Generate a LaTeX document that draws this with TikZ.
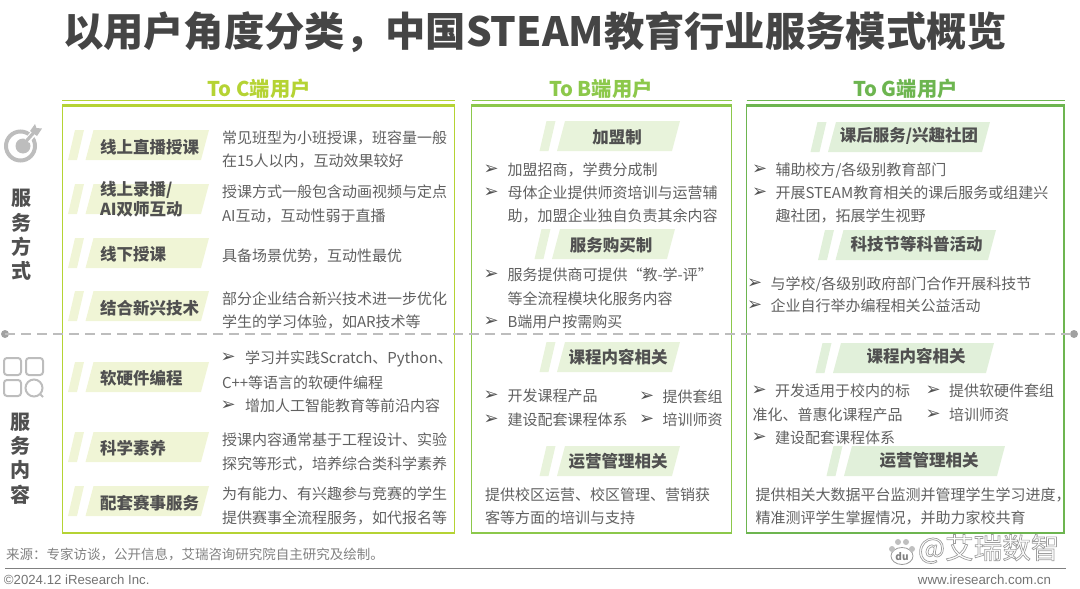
\documentclass[tikz,border=0pt]{standalone}
\usepackage{fontspec}
\setmainfont{Noto Sans CJK SC}
\newfontfamily\latinf{Liberation Sans}
\newfontfamily\symf{DejaVu Sans}
\usetikzlibrary{calc}
\definecolor{cgreen}{HTML}{B5D334}
\definecolor{bgreen}{HTML}{8CC84B}
\definecolor{ggreen}{HTML}{6DB550}
\definecolor{ctag}{HTML}{F0F5D6}
\definecolor{btag}{HTML}{E8F3DB}
\definecolor{gtag}{HTML}{E1F0DA}
\definecolor{tagtext}{HTML}{505050}
\definecolor{titlec}{HTML}{454545}
\definecolor{bodytext}{HTML}{606060}
\definecolor{iconc}{HTML}{BDBDBD}
\tikzset{
  x=1pt,y=-1pt,
  every node/.style={inner sep=0pt,outer sep=0pt},
  titletext/.style={font=\fontsize{40.3}{40}\selectfont\bfseries,text=titlec},
  head/.style={font=\fontsize{20.3}{21}\selectfont\bfseries},
  taglabel/.style={font=\fontsize{16.5}{17}\selectfont\bfseries,text=tagtext},
  bodyline/.style={font=\fontsize{15}{15}\selectfont,text=bodytext,anchor=west,text height=13pt,text depth=1.6pt},
  bulletmark/.style={font=\fontsize{18}{18}\selectfont\symf,text=bodytext!85!black,anchor=west,xshift=-1.5pt},
  side/.style={font=\fontsize{20}{20}\selectfont\bfseries,text=tagtext},
}
% tag band: #1 colour, #2 x of the bottom-left of main band, #3 top y, #4 bottom-right x
\newcommand{\band}[4]{%
  \fill[#1] (#2+8,#3) -- (#4+8,#3) -- (#4,#3+30) -- (#2,#3+30) -- cycle;
  \fill[#1] (#2-17.5,#3+30) -- (#2-8.5,#3+30) -- (#2-1.5,#3) -- (#2-10.5,#3) -- cycle;
}
\newcommand{\bl}[4]{\node[bodyline] (#1) at (#2,#3) {#4};}
\newcommand{\bm}[3]{\node[bulletmark] (#1) at (#2,#3) {➢};}
\begin{document}
\begin{tikzpicture}
\useasboundingbox (0,0) rectangle (1080,589);
\node[titletext] (title) at (535,32) {以用户角度分类，中国STEAM教育行业服务模式概览};

% column heads
\node[head,text=cgreen] (hc) at (259,89) {To C端用户};
\node[head,text=bgreen] (hb) at (601,89) {To B端用户};
\node[head,text=ggreen] (hg) at (905.5,89) {To G端用户};

% frames
\draw[cgreen,line width=1pt] (62,100.5) -- (454.5,100.5);
\fill[cgreen] (62,103.5) rectangle (454.5,107);
\draw[cgreen,line width=1.3pt] (62.5,105) rectangle (454.5,533);
\draw[bgreen,line width=1pt] (471.5,100.5) -- (731.5,100.5);
\fill[bgreen] (471.5,103.5) rectangle (731.5,107);
\draw[bgreen,line width=1.3pt] (471.5,105) rectangle (731.5,533);
\draw[ggreen,line width=1pt] (746.5,100.5) -- (1065,100.5);
\fill[ggreen] (746.5,103.5) rectangle (1065,107);
\draw[ggreen,line width=1.3pt] (746.5,105) rectangle (1064,533);

% dashed separator
\fill[iconc!85!black] (5,334) circle (4) coordinate (dl);
\fill[iconc!85!black] (1074,334) circle (4) coordinate (dr);
\draw[iconc,line width=1.4pt,dash pattern=on 10pt off 6pt] (dl) -- (dr);

% bands
\band{ctag}{85.5}{130}{201}
\band{ctag}{85.5}{184}{201}
\band{ctag}{85.5}{238}{201}
\band{ctag}{85.5}{291}{201}
\band{ctag}{85.5}{362}{201}
\band{ctag}{85.5}{432}{201}
\band{ctag}{85.5}{486}{201}
\band{btag}{557}{121}{672}
\band{btag}{552}{229}{667}
\band{btag}{557}{342}{672}
\band{btag}{557}{446}{672}
\band{gtag}{828}{122}{982}
\band{gtag}{835.5}{230}{988}
\band{gtag}{833}{343}{986}
\band{gtag}{844}{446}{997}

% To C tags
\node[taglabel,anchor=west] (c1) at (100,147) {线上直播授课};
\node[taglabel,anchor=west] (c2a) at (100,190) {线上录播/};
\node[taglabel,anchor=west] (c2b) at (100,209) {AI双师互动};
\node[taglabel,anchor=west] (c3) at (100,254) {线下授课};
\node[taglabel,anchor=west] (c4) at (100,308) {结合新兴技术};
\node[taglabel,anchor=west] (c5) at (100,378) {软硬件编程};
\node[taglabel,anchor=west] (c6) at (100,448) {科学素养};
\node[taglabel,anchor=west] (c7) at (100,503) {配套赛事服务};

% To C body
\bl{t1}{222}{138}{常见班型为小班授课，班容量一般}
\bl{t2}{222}{161}{在15人以内，互动效果较好}
\bl{t3}{222}{192}{授课方式一般包含动画视频与定点}
\bl{t4}{222}{215.5}{AI互动，互动性弱于直播}
\bl{t5}{222}{255.5}{具备场景优势，互动性最优}
\bl{t6}{222}{299}{部分企业结合新兴技术进一步优化}
\bl{t7}{222}{322}{学生的学习体验，如AR技术等}
\bm{m1}{222}{358}\bl{t8}{245}{358}{学习并实践Scratch、Python、}
\bl{t9}{222}{382.5}{C++等语言的软硬件编程}
\bm{m2}{222}{406}\bl{t10}{245}{406}{增加人工智能教育等前沿内容}
\bl{t11}{222}{439.5}{授课内容通常基于工程设计、实验}
\bl{t12}{222}{463.5}{探究等形式，培养综合类科学素养}
\bl{t13}{222}{494}{为有能力、有兴趣参与竞赛的学生}
\bl{t14}{222}{518}{提供赛事全流程服务，如代报名等}

% To B
\node[taglabel] (b1) at (617,137) {加盟制};
\node[taglabel] (b2) at (611,245) {服务购买制};
\node[taglabel] (b3) at (618,357) {课程内容相关};
\node[taglabel] (b4) at (618,461) {运营管理相关};
\bm{m3}{485}{169.5}\bl{u1}{507.5}{169.5}{加盟招商，学费分成制}
\bm{m4}{485}{192.5}\bl{u2}{507.5}{192.5}{母体企业提供师资培训与运营辅}
\bl{u3}{507.5}{216}{助，加盟企业独自负责其余内容}
\bm{m5}{485}{275}\bl{u4}{507.5}{275}{服务提供商可提供“教-学-评”}
\bl{u5}{507.5}{298.5}{等全流程模块化服务内容}
\bm{m6}{485}{321.5}\bl{u6}{507.5}{321.5}{B端用户按需购买}
\bm{m7}{485}{396}\bl{u7}{507.5}{396}{开发课程产品}
\bm{m8}{485}{419.5}\bl{u8}{507.5}{419.5}{建设配套课程体系}
\bm{m9}{640.5}{396.5}\bl{u9}{662.5}{396.5}{提供套组}
\bm{m10}{640.5}{419.5}\bl{u10}{662.5}{419.5}{培训师资}
\bl{u11}{485}{494.5}{提供校区运营、校区管理、营销获}
\bl{u12}{485}{517.5}{客等方面的培训与支持}

% To G
\node[taglabel] (g1) at (909,136) {课后服务/兴趣社团};
\node[taglabel] (g2) at (916.5,244) {科技节等科普活动};
\node[taglabel] (g3) at (916,356) {课程内容相关};
\node[taglabel] (g4) at (929,460) {运营管理相关};
\bm{m11}{753.5}{169.5}\bl{v1}{775.5}{169.5}{辅助校方/各级别教育部门}
\bm{m12}{753.5}{192.5}\bl{v2}{775.5}{192.5}{开展STEAM教育相关的课后服务或组建兴}
\bl{v3}{775.5}{216}{趣社团，拓展学生视野}
\bm{m13}{748.5}{283.5}\bl{v4}{770.5}{283.5}{与学校/各级别政府部门合作开展科技节}
\bm{m14}{748.5}{306}\bl{v5}{770.5}{306}{企业自行举办编程相关公益活动}
\bm{m15}{753}{391}\bl{v6}{775}{391}{开发适用于校内的标}
\bl{v7}{752.5}{414.5}{准化、普惠化课程产品}
\bm{m16}{753}{437.5}\bl{v8}{775}{437.5}{建设配套课程体系}
\bm{m17}{927}{391}\bl{v9}{949}{391}{提供软硬件套组}
\bm{m18}{927}{414.5}\bl{v10}{949}{414.5}{培训师资}
\bl{v11}{755.5}{494.5}{提供相关大数据平台监测并管理学生学习进度，}
\bl{v12}{755.5}{517.5}{精准测评学生掌握情况，并助力家校共育}

% side labels
\node[side] (s1) at (21,198) {服};
\node[side] (s2) at (21,223) {务};
\node[side] (s3) at (21,247) {方};
\node[side] (s4) at (21,271) {式};
\node[side] (s5) at (20,422) {服};
\node[side] (s6) at (20,446) {务};
\node[side] (s7) at (20,470) {内};
\node[side] (s8) at (20,495) {容};

% target icon
\draw[iconc,line width=4pt] (20.5,146) ellipse (14.5 and 14.5);
\fill[iconc] (23,146) ellipse (7.5 and 7.5);
\draw[white,line width=6pt] (27,141) -- (37,129);
\draw[iconc,line width=3.2pt] (22,146) -- (36,130);
\fill[iconc] (30,131) -- (35,124) -- (36.5,128) -- (42,128.5) -- (37,136) -- cycle;
% grid icon
\begin{scope}[iconc,line width=2pt]
\draw[rounded corners=3pt] (4,358) rectangle (21,375);
\draw[rounded corners=3pt] (26,358) rectangle (43,375);
\draw[rounded corners=3pt] (4,380) rectangle (21,396);
\draw (34,388) circle (8.5);
\draw (40.5,394.5) -- (43,397);
\end{scope}

% footer
\node[font=\fontsize{13.5}{14}\selectfont,text=black!50,anchor=west] (src) at (6,554) {来源：专家访谈，公开信息，艾瑞咨询研究院自主研究及绘制。};
\draw[black!50,line width=1pt] (5,568.5) -- (1066,568.5);
\node[font=\fontsize{13.2}{13}\selectfont\latinf,text=black!55,anchor=west] (cp) at (4,580) {©2024.12 iResearch Inc.};
\node[font=\fontsize{13.3}{13}\selectfont\latinf,text=black!55,anchor=east] (web) at (1051,580) {www.iresearch.com.cn};

% watermark
\node[font=\fontsize{28.6}{29}\selectfont,text=black!38,anchor=west] (wm) at (918,549) {\special{pdf:code 1 Tr 0.7 w}@艾瑞数智\special{pdf:code 0 Tr}};
\draw[black!40,fill=white,line width=.8pt] (902,556) ellipse (11 and 8.5);
\fill[black!25] (892,549) circle (3) (898,542) circle (3) (906,542) circle (3) (912,549) circle (3);
\node[font=\fontsize{10}{10}\selectfont\bfseries,text=black!50] (du) at (902,557) {du};
\end{tikzpicture}
\end{document}
